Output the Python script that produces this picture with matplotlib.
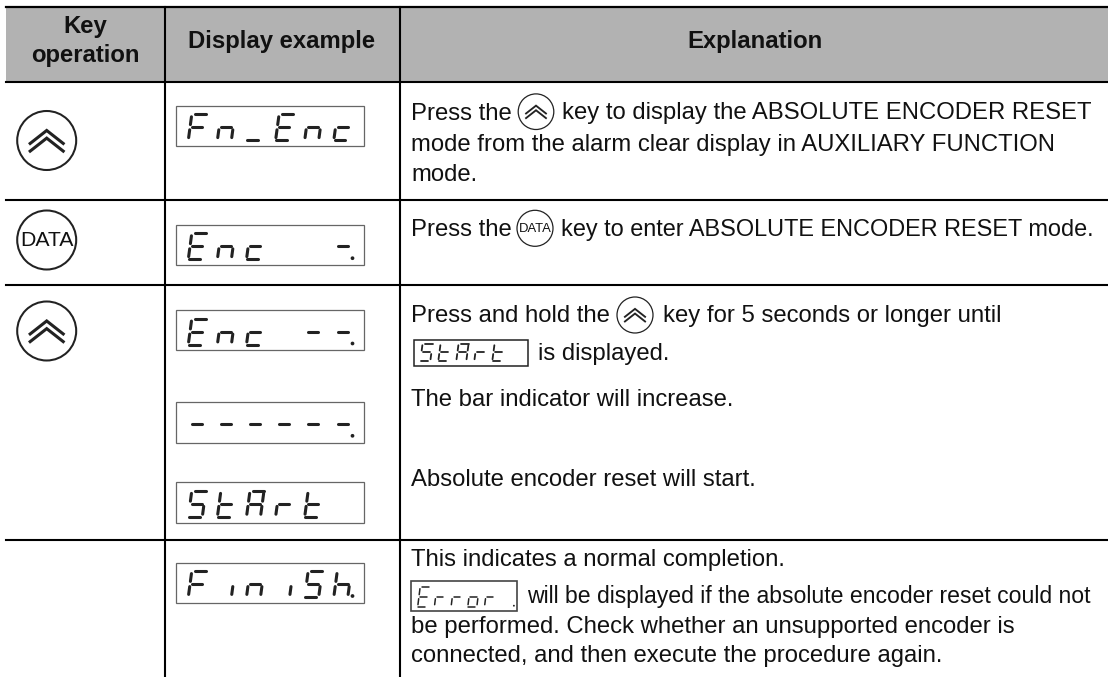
import matplotlib
matplotlib.use("Agg")
import matplotlib.pyplot as plt
from matplotlib.patches import Circle, Rectangle

W, H = 1108, 677

headers = ["Key", "operation", "Display example", "Explanation"]
displays = ["Fn_Enc", "Enc  -.", "Enc --.", "------.", "StArt", "FiniSh."]
display_tops = [105.7, 224.7, 310, 402.3, 482.3, 562.5]
row_lines = [81.5, 200, 284.7, 540]
col_lines = [165, 400]

# which segments are lit for each letter
segments = {
    "F": "afge", "n": "ceg", "_": "d", "E": "adefg", "c": "deg", "-": "g",
    "S": "acdfg", "t": "defg", "A": "abcefg", "r": "eg", "i": "c",
    "h": "cefg", "o": "cdeg", " ": "",
}

text_color = "#111111"
seg_color = "#222222"
body_size = 17.2
plt.rcParams["font.family"] = ["Liberation Sans", "DejaVu Sans"]

fig = plt.figure(figsize=(W / 100, H / 100), dpi=100)
ax = fig.add_axes([0, 0, 1, 1])
ax.set_xlim(0, W)
ax.set_ylim(H, 0)
ax.axis("off")


# one seven segment digit, x and y is the bottom left corner
def digit(x, y, ch, w, h, lw, slant):
    ends = {
        "a": ((0.22, 1), (1.0, 1)), "g": ((0.14, 0.5), (0.86, 0.5)), "d": ((0.05, 0), (0.8, 0)),
        "b": ((1, 0.9), (1, 0.6)), "c": ((1, 0.4), (1, 0.1)),
        "f": ((0, 0.9), (0, 0.6)), "e": ((0, 0.4), (0, 0.1)),
    }
    for s in segments[ch]:
        (u0, v0), (u1, v1) = ends[s]
        ax.plot([x + u0 * w + v0 * slant, x + u1 * w + v1 * slant], [y - v0 * h, y - v1 * h],
                color=seg_color, lw=lw, solid_capstyle="round")


def display(x, top, text, bw=188.5, bh=40.2, pitch=29.1, left=12.8, pad=5.7,
            w=14.0, h=26.0, lw=2.2, slant=3.5, box_color="#666666", box_lw=0.9):
    ax.add_patch(Rectangle((x, top), bw, bh, fill=False, ec=box_color, lw=box_lw))
    base = top + bh - pad
    i = 0
    for ch in text:
        if ch == ".":
            px = x + left + (i - 1) * pitch + w + slant + 1.2
            ax.add_patch(Circle((px, base - 1), lw * 0.85, color=seg_color, lw=0))
            continue
        digit(x + left + i * pitch, base, ch, w, h, lw, slant)
        i += 1


def chevrons(cx, cy, r):
    for dy in (-0.12, 0.14):
        xs = [cx - 0.56 * r, cx, cx + 0.56 * r]
        ys = [cy + (dy + 0.22) * r, cy + (dy - 0.22) * r, cy + (dy + 0.22) * r]
        ax.plot(xs, ys, color=seg_color, lw=max(0.9, r * 0.075), solid_joinstyle="miter")


def key(cx, cy, r, label=None):
    ax.add_patch(Circle((cx, cy), r, fill=False, ec=seg_color, lw=max(0.9, r * 0.05)))
    if label:
        ax.text(cx, cy + 0.5, label, ha="center", va="center", fontsize=r * 0.52, color=text_color)
    else:
        chevrons(cx, cy, r)


def txt(x, y, s, size=body_size):
    ax.text(x, y, s, ha="left", va="baseline", fontsize=size, color=text_color)


def head(x, y, s):
    ax.text(x, y, s, ha="center", va="baseline", fontsize=body_size, weight="bold", color=text_color)


# header band and rules
ax.add_patch(Rectangle((6, 7), W - 6, 74.5, color="#b2b2b2", lw=0))
ax.plot([6, W], [7, 7], color="black", lw=1.6)
for y in row_lines:
    ax.plot([6, W], [y, y], color="black", lw=1.5)
for x in col_lines:
    ax.plot([x, x], [7, H], color="black", lw=1.5)

head(85.5, 33, headers[0])
head(85.5, 62, headers[1])
head(282, 48, headers[2])
head(755, 48, headers[3])

key(46.7, 140.5, 29.5)
key(46.7, 240, 29.5, "DATA")
key(46.7, 331, 29.5)

for text, top in zip(displays, display_tops):
    display(175.5, top, text)

# explanation column
txt(411, 119.5, "Press the")
key(536, 111.7, 17.8)
txt(562, 119.5, "key to display the ABSOLUTE ENCODER RESET")
txt(411, 151, "mode from the alarm clear display in AUXILIARY FUNCTION")
txt(411, 181, "mode.")

txt(411, 236, "Press the")
key(535, 228.3, 18, "DATA")
txt(560.6, 236, "key to enter ABSOLUTE ENCODER RESET mode.", size=16.95)

txt(411, 321.7, "Press and hold the")
key(635, 315, 18)
txt(662.7, 321.7, "key for 5 seconds or longer until")
display(414.3, 340, "StArt", bw=114, bh=26, pitch=18, left=6, pad=5, w=10, h=17.5,
        lw=1.3, slant=2.3, box_color="#222222", box_lw=1.1)
txt(538, 360, "is displayed.")
txt(411, 406.5, "The bar indicator will increase.")
txt(411, 486.5, "Absolute encoder reset will start.")

txt(411, 565.7, "This indicates a normal completion.")
display(410.7, 580.7, "Error .", bw=106.3, bh=30, pitch=16.7, left=7, pad=4, w=9, h=20,
        lw=1.1, slant=2.5, box_color="#444444", box_lw=1.2)
txt(526.7, 603, "will be displayed if the absolute encoder reset could not", size=16.6)
txt(411, 633, "be performed. Check whether an unsupported encoder is")
txt(411, 662, "connected, and then execute the procedure again.")

fig.savefig("out.png", dpi=100, facecolor="white")
